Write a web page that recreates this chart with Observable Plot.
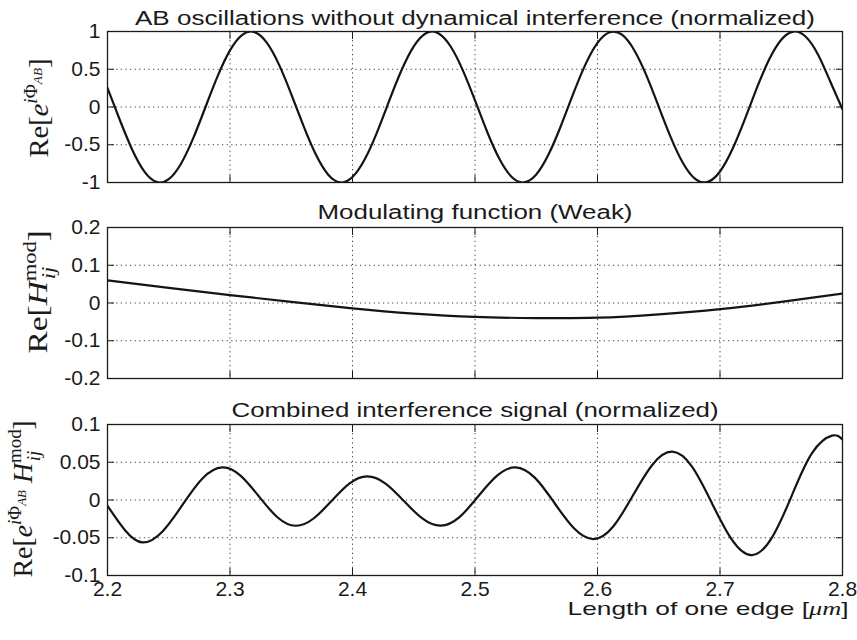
<!DOCTYPE html>
<html><head><meta charset="utf-8">
<script src="https://cdn.jsdelivr.net/npm/d3@7"></script>
<script src="https://cdn.jsdelivr.net/npm/@observablehq/plot@0.6"></script>
<style>
body{margin:0;background:#fff;}
#chart{width:857px;height:640px;overflow:hidden;background:#fff;}
#chart svg{display:block;}
</style></head><body><div id="chart"></div>
<script>
// ---- shared x axis ----
const lengthTicks = [2.2, 2.3, 2.4, 2.5, 2.6, 2.7, 2.8];
const lengthTickLabels = ["2.2", "2.3", "2.4", "2.5", "2.6", "2.7", "2.8"];

// ---- panel 1: AB oscillations ----
const abTicks = [-1, -0.5, 0, 0.5, 1];
const abTickLabels = ["-1", "-0.5", "0", "0.5", "1"];
const abLength = [2.20,2.21,2.22,2.23,2.24,2.25,2.26,2.27,2.28,2.29,
  2.30,2.31,2.32,2.33,2.34,2.35,2.36,2.37,2.38,2.39,
  2.40,2.41,2.42,2.43,2.44,2.45,2.46,2.47,2.48,2.49,
  2.50,2.51,2.52,2.53,2.54,2.55,2.56,2.57,2.58,2.59,
  2.60,2.61,2.62,2.63,2.64,2.65,2.66,2.67,2.68,2.69,
  2.70,2.71,2.72,2.73,2.74,2.75,2.76,2.77,2.78,2.79,2.80];
const abRe = [0.252,-0.169,-0.559,-0.852,-0.992,-0.956,-0.751,-0.413,0.000,0.412,
  0.750,0.956,0.992,0.852,0.561,0.170,-0.250,-0.627,-0.893,-0.999,
  -0.928,-0.693,-0.335,0.084,0.486,0.803,0.977,0.978,0.805,0.489,
  0.087,-0.331,-0.690,-0.927,-0.999,-0.894,-0.630,-0.255,0.167,0.558,
  0.850,0.991,0.957,0.752,0.415,0.003,-0.408,-0.748,-0.955,-0.992,
  -0.854,-0.564,-0.174,0.249,0.625,0.891,0.999,0.930,0.695,0.337,-0.030];

// ---- panel 2: modulating function ----
const modTicks = [-0.2, -0.1, 0, 0.1, 0.2];
const modTickLabels = ["-0.2", "-0.1", "0", "0.1", "0.2"];
const modLength = [2.20,2.25,2.30,2.35,2.40,2.45,2.50,2.55,2.60,2.65,2.70,2.75,2.80];
const modRe = [0.060,0.040,0.021,0.003,-0.014,-0.028,-0.037,-0.040,-0.039,-0.030,-0.016,0.003,0.025];

// ---- panel 3: combined signal ----
const combTicks = [-0.1, -0.05, 0, 0.05, 0.1];
const combTickLabels = ["-0.1", "-0.05", "0", "0.05", "0.1"];
const combLength = [2.200,2.2143,2.2286,2.2449,2.2612,2.2775,2.2938,2.3088,2.3237,2.3387,
  2.3536,2.3682,2.3828,2.3974,2.412,2.427,2.442,2.457,2.472,2.4873,
  2.5025,2.5178,2.533,2.549,2.565,2.581,2.597,2.613,2.629,2.645,
  2.661,2.6773,2.6935,2.7098,2.726,2.7424,2.7587,2.7751,2.7914,2.800];
const combRe = [-0.0076,-0.0400,-0.0562,-0.0416,-0.0065,0.0286,0.0432,0.0319,0.0046,-0.0228,
  -0.0341,-0.0245,-0.0014,0.0217,0.0313,0.0217,-0.0014,-0.0244,-0.0340,-0.0227,
  0.0046,0.0319,0.0432,0.0293,-0.0043,-0.0378,-0.0517,-0.0348,0.0062,0.0471,
  0.0640,0.0439,-0.0045,-0.0529,-0.0730,-0.0498,0.0062,0.0621,0.0853,0.0800];

const titles = [
  "AB oscillations without dynamical interference (normalized)",
  "Modulating function (Weak)",
  "Combined interference signal (normalized)"
];
const xLabel = "Length of one edge [μm]";

const S = 'font-size="19"';
const yLabelHtml = [
  `Re[<tspan font-style="italic">e</tspan><tspan ${S} dy="-11"><tspan font-style="italic">i</tspan>Φ</tspan><tspan font-size="13" font-style="italic" dy="5">AB</tspan><tspan dy="6">]</tspan>`,
  `Re[<tspan font-style="italic">H</tspan><tspan ${S} dy="-11">mod</tspan><tspan ${S} font-style="italic" dx="-32" dy="19">ij</tspan><tspan dx="21" dy="-8">]</tspan>`,
  `Re[<tspan font-style="italic">e</tspan><tspan ${S} dy="-11"><tspan font-style="italic">i</tspan>Φ</tspan><tspan font-size="13" font-style="italic" dy="5">AB</tspan><tspan font-style="italic" dy="6"> H</tspan><tspan ${S} dy="-11">mod</tspan><tspan ${S} font-style="italic" dx="-32" dy="19">ij</tspan><tspan dx="21" dy="-8">]</tspan>`
];

const grid = {stroke: "#3a3a3a", strokeOpacity: 1, strokeWidth: 1, strokeDasharray: "1.2,3.4"};
const tickStroke = {stroke: "#1a1a1a", fill: "none", label: null, tickSize: 7};

function panel(cfg) {
  const data = cfg.xs.map((x, i) => ({len: x, val: cfg.ys[i]}));
  const marks = [
    Plot.gridX({ticks: lengthTicks, ...grid}),
    Plot.gridY({ticks: cfg.yTicks, ...grid}),
    // inward ticks on all four sides (outward ticks shifted back into the frame)
    Plot.axisX({anchor: "top", ticks: lengthTicks, dy: 7, ...tickStroke}),
    Plot.axisX({anchor: "bottom", ticks: lengthTicks, dy: -7, ...tickStroke}),
    Plot.axisY({anchor: "left", ticks: cfg.yTicks, dx: 7, ...tickStroke}),
    Plot.axisY({anchor: "right", ticks: cfg.yTicks, dx: -7, ...tickStroke}),
    Plot.axisY({anchor: "left", ticks: cfg.yTicks, tickSize: 0, tickPadding: 7, label: null,
      tickFormat: d => cfg.yTickLabels[cfg.yTicks.indexOf(d)], fontSize: 21}),
    Plot.line(data, {x: "len", y: "val", curve: "natural", stroke: "#141414", strokeWidth: 2.2, clip: true}),
    Plot.frame({stroke: "#1a1a1a", strokeWidth: 1.3}),
    Plot.text([cfg.title], {frameAnchor: "top", lineAnchor: "bottom", dy: cfg.titleDy, text: d => d, fontSize: 20}),
    Plot.text(["YLABEL"], {frameAnchor: "left", textAnchor: "middle", rotate: -90, dx: cfg.labelDx, dy: cfg.labelDy,
      text: d => d, fontSize: 28, fontFamily: "Liberation Serif, Times New Roman, serif"})
  ];
  if (cfg.xLabels) {
    marks.push(Plot.axisX({anchor: "bottom", ticks: lengthTicks, tickSize: 0, tickPadding: 6, label: null,
      tickFormat: d => lengthTickLabels[lengthTicks.indexOf(d)], fontSize: 21}));
    marks.push(Plot.text([xLabel], {frameAnchor: "bottom-right", textAnchor: "end", lineAnchor: "bottom",
      dx: 6, dy: 39, text: d => d, fontSize: 19}));
  }
  const svg = Plot.plot({
    width: 857, height: cfg.height,
    marginLeft: 107, marginRight: 15, marginTop: cfg.mt, marginBottom: cfg.mb,
    style: {fontFamily: "Liberation Sans, Arial, Helvetica, sans-serif", color: "#1a1a1a", background: "#fff", overflow: "visible"},
    x: {domain: [2.2, 2.8], axis: null, label: null},
    y: {domain: cfg.yDomain, axis: null, label: null},
    marks
  });
  const sel = d3.select(svg).selectAll("text");
  sel.filter(function() { return this.textContent === cfg.title; })
    .attr("textLength", cfg.titleLen).attr("lengthAdjust", "spacingAndGlyphs");
  sel.filter(function() { return this.textContent === "YLABEL"; })
    .each(function() { this.innerHTML = cfg.yLabelHtml; })
    .attr("textLength", cfg.labelLen).attr("lengthAdjust", "spacingAndGlyphs");
  if (cfg.xLabels) {
    sel.filter(function() { return this.textContent === xLabel; })
      .each(function() { this.innerHTML = 'Length of one edge [<tspan font-family="Liberation Serif, serif" font-style="italic">μm</tspan>]'; })
      .attr("textLength", 281).attr("lengthAdjust", "spacingAndGlyphs");
  }
  return svg;
}

const root = document.getElementById("chart");
root.appendChild(panel({
  xs: abLength, ys: abRe, yDomain: [-1, 1], yTicks: abTicks, yTickLabels: abTickLabels,
  height: 196, mt: 31, mb: 14, title: titles[0], titleDy: -7, titleLen: 680,
  yLabelHtml: yLabelHtml[0], labelDx: -68, labelDy: 1, labelLen: 99
}));
root.appendChild(panel({
  xs: modLength, ys: modRe, yDomain: [-0.2, 0.2], yTicks: modTicks, yTickLabels: modTickLabels,
  height: 196, mt: 31, mb: 14, title: titles[1], titleDy: -9, titleLen: 315,
  yLabelHtml: yLabelHtml[1], labelDx: -69, labelDy: -11, labelLen: 123
}));
root.appendChild(panel({
  xs: combLength, ys: combRe, yDomain: [-0.1, 0.1], yTicks: combTicks, yTickLabels: combTickLabels,
  height: 248, mt: 32, mb: 65, title: titles[2], titleDy: -8, titleLen: 487,
  yLabelHtml: yLabelHtml[2], labelDx: -84, labelDy: -1, labelLen: 157, xLabels: true
}));
</script></body></html>
